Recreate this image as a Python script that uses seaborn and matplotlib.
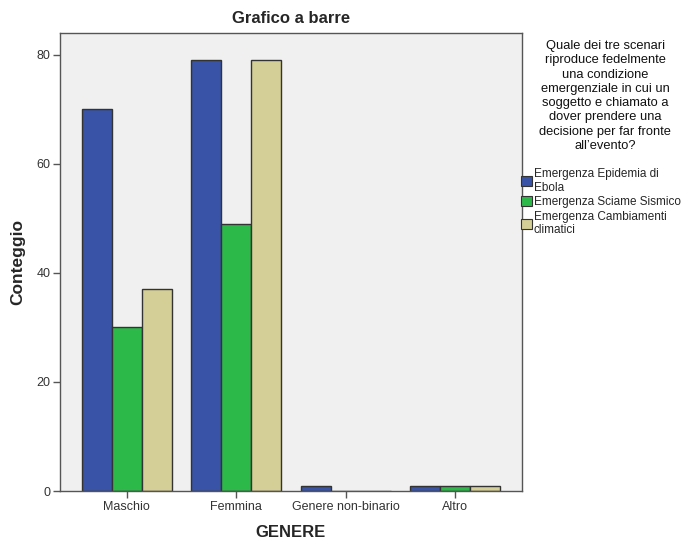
import numpy as np
import pandas as pd
import matplotlib
matplotlib.use("Agg")
import matplotlib.pyplot as plt
import seaborn as sns
from matplotlib.patches import Patch

# data
genere = ["Maschio", "Femmina", "Genere non-binario", "Altro"]
scenari = ["Emergenza Epidemia di\nEbola", "Emergenza Sciame Sismico",
           "Emergenza Cambiamenti\nclimatici"]
ebola = [70, 79, 1, 1]
sisma = [30, 49, 0, 1]
clima = [37, 79, 0, 1]
colori = ["#3953a6", "#2db84a", "#d4cf96"]

legend_title = ("Quale dei tre scenari\nriproduce fedelmente\nuna condizione\n"
                "emergenziale in cui un\nsoggetto e chiamato a\ndover prendere una\n"
                "decisione per far fronte\nall\u2019evento?")

df = pd.DataFrame({
    "GENERE": genere * 3,
    "scenario": [scenari[0]] * 4 + [scenari[1]] * 4 + [scenari[2]] * 4,
    "Conteggio": ebola + sisma + clima,
})

sns.set_style("ticks")
plt.rcParams["font.family"] = ["Liberation Sans", "DejaVu Sans"]

fig = plt.figure(figsize=(6.88, 5.45), dpi=100)
ax = fig.add_axes([60 / 688, 1 - 491 / 545, 462 / 688, 458 / 545])
ax.set_facecolor("#f0f0f0")

sns.barplot(data=df, x="GENERE", y="Conteggio", hue="scenario", order=genere,
            hue_order=scenari, palette=colori, saturation=1, width=0.82,
            edgecolor="#333333", linewidth=1.0, ax=ax, legend=False)

ax.set_xlim(-0.61, 3.61)
ax.set_ylim(0, 84)
ax.set_yticks([0, 20, 40, 60, 80])
ax.tick_params(axis="both", direction="out", length=5, width=1, color="#555555",
               labelsize=9, labelcolor="#333333", pad=2, bottom=True, left=True)
for s in ax.spines.values():
    s.set_color("#555555")
    s.set_linewidth(1.0)

ax.set_title("Grafico a barre", fontsize=12, fontweight="bold", pad=7)
ax.set_xlabel("GENERE", fontsize=12, fontweight="bold", labelpad=9)
ax.set_ylabel("Conteggio", fontsize=12.5, fontweight="bold", labelpad=8)

fig.text(605 / 688, 1 - 40 / 545, legend_title, ha="center", va="top",
         fontsize=9.3, linespacing=1.25, color="#111111")

handles = [Patch(facecolor=c, edgecolor="#333333", linewidth=0.8) for c in colori]
fig.legend(handles, scenari, loc="upper left", bbox_to_anchor=(521 / 688, 1 - 168 / 545),
           frameon=False, fontsize=8.5, handlelength=0.9, handleheight=0.9,
           handletextpad=0.2, labelspacing=0.2, borderaxespad=0, borderpad=0)

fig.savefig("out.png", dpi=100)
